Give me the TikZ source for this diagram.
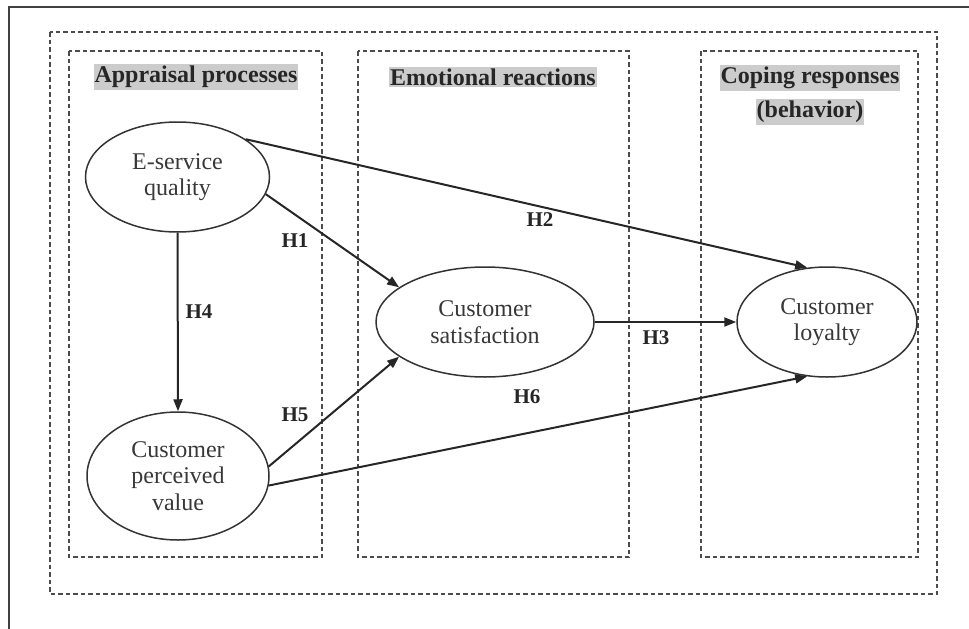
\documentclass[tikz,border=0pt]{standalone}
\usepackage{fontspec}
\setmainfont{Liberation Serif}
\usetikzlibrary{shapes.geometric,arrows.meta}
\definecolor{dashgray}{gray}{0.3}
\definecolor{headgray}{gray}{0.8}
\definecolor{txtgray}{gray}{0.22}
\tikzset{
  framebox/.style={draw=dashgray,line width=2pt,dash pattern=on 4.5pt off 3pt},
  construct/.style={ellipse,draw=black!80,line width=1.5pt,inner sep=0pt,align=center,
     text=txtgray,font=\fontsize{24}{26.5}\selectfont},
  header/.style={fill=headgray,inner xsep=1pt,inner ysep=2pt,font=\bfseries\fontsize{24}{26}\selectfont,text=black!85},
  hlabel/.style={font=\bfseries\fontsize{21}{23}\selectfont,text=black!85},
  path/.style={draw=black!85,line width=2pt,-{Triangle[length=12pt,width=9pt]}}
}
\begin{document}
\begin{tikzpicture}[x=1pt,y=-1pt]
\useasboundingbox (0,0) rectangle (969,629);
% outer solid frame (cropped)
\draw[line width=2pt,black!75] (9,629) -- (9,7) -- (969,7);
% dashed frames
\draw[framebox] (50,32) rectangle (937,594);
\draw[framebox] (69,51) rectangle (322,557);
\draw[framebox] (358,51) rectangle (629,557);
\draw[framebox] (701,51) rectangle (918,557);
% headers
\node[header] (hA) at (196,77) {Appraisal processes};
\node[header] (hE) at (493,77) {Emotional reactions};
\node[header] (hC1) at (810,78) {Coping responses};
\node[header] (hC2) at (810,112) {(behavior)};
% constructs
\node[construct,minimum width=184pt,minimum height=110pt] (eq) at (177.5,177) {E-service\\quality};
\node[construct,minimum width=182pt,minimum height=128pt] (pv) at (178,476) {Customer\\perceived\\value};
\node[construct,minimum width=218pt,minimum height=110pt] (cs) at (485,322) {Customer\\satisfaction};
\node[construct,minimum width=180pt,minimum height=110pt] (cl) at (827,322) {Customer\\loyalty};
% paths
\draw[path] (eq.29.5) -- (cl.110);
\draw[path] (eq.-11) -- (cs.158);
\draw[path] (eq.south) -- (pv.north);
\draw[path] (pv.6) -- (cs.-158);
\draw[path] (pv.-6) -- (cl.-110);
\draw[path] (cs.east) -- (cl.west);
% labels
\node[hlabel] (h1) at (295,241) {H1};
\node[hlabel] (h2) at (540,220) {H2};
\node[hlabel] (h3) at (656,338) {H3};
\node[hlabel] (h4) at (199,312) {H4};
\node[hlabel] (h5) at (295,415) {H5};
\node[hlabel] (h6) at (527,397) {H6};
\end{tikzpicture}
\end{document}
